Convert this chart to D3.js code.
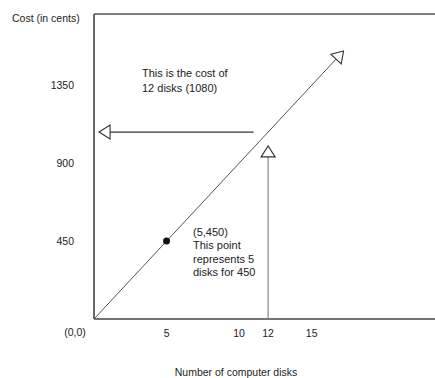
<!DOCTYPE html>
<html><head><meta charset="utf-8">
<script src="https://cdn.jsdelivr.net/npm/d3@7"></script>
<style>body{margin:0;background:#fff}svg{display:block}text{font-family:"Liberation Sans",Arial,sans-serif;fill:#222}</style>
</head><body>
<script>
// ---- data ----
const xTicks = [5, 10, 12, 15];
const yTicks = [450, 900, 1350];
const costPerDisk = 90;
const lineDisks = [0, 17.2];
const point = [5, 450];
const hArrow = [[11, 1080], [0.35, 1080]];
const vArrow = [[12, 0], [12, 1000]];
const noteTop = ["This is the cost of", "12 disks (1080)"];
const notePoint = ["(5,450)", "This point", "represents 5", "disks for 450"];
const yTitle = "Cost (in cents)";
const xTitle = "Number of computer disks";
const originLabel = "(0,0)";

const W = 435, H = 378;
const svg = d3.select("body").append("svg").attr("width", W).attr("height", H);
const x = d3.scaleLinear().domain([0, 23.5]).range([94, 435]);
const y = d3.scaleLinear().domain([0, 1762]).range([319, 14]);

const defs = svg.append("defs");
defs.append("marker").attr("id", "arr").attr("viewBox", "0 -8 13 16")
  .attr("refX", 12).attr("refY", 0).attr("markerWidth", 13).attr("markerHeight", 16)
  .attr("markerUnits", "userSpaceOnUse").attr("orient", "auto")
  .append("path").attr("d", "M1,-7 L12,0 L1,7 Z")
  .attr("fill", "#fff").attr("stroke", "#333").attr("stroke-width", 1.1);

// frame: left axis, top line, bottom axis
svg.append("line").attr("x1", x(0)).attr("x2", x(0)).attr("y1", y.range()[1]).attr("y2", y(0))
  .attr("stroke", "#444").attr("stroke-width", 1.6);
svg.append("line").attr("x1", x(0)).attr("x2", W).attr("y1", y.range()[1]).attr("y2", y.range()[1])
  .attr("stroke", "#555").attr("stroke-width", 1.6);
svg.append("line").attr("x1", x(0)).attr("x2", W).attr("y1", y(0)).attr("y2", y(0))
  .attr("stroke", "#444").attr("stroke-width", 1.6);

// cost line
const line = d3.line().x(d => x(d[0])).y(d => y(d[1]));
svg.append("path").datum(lineDisks.map(d => [d, d * costPerDisk])).attr("d", line)
  .attr("fill", "none").attr("stroke", "#555").attr("stroke-width", 1).attr("marker-end", "url(#arr)");

// horizontal arrow
svg.append("path").datum(hArrow).attr("d", line).attr("fill", "none")
  .attr("stroke", "#333").attr("stroke-width", 1.2).attr("marker-end", "url(#arr)");
// vertical arrow
svg.append("path").datum(vArrow).attr("d", line).attr("fill", "none")
  .attr("stroke", "#888").attr("stroke-width", 1.2).attr("marker-end", "url(#arr)");

// point
svg.append("circle").attr("cx", x(point[0])).attr("cy", y(point[1])).attr("r", 3.5).attr("fill", "#111");

// tick labels
svg.selectAll(".xt").data(xTicks).join("text").attr("x", d => x(d)).attr("y", 337)
  .attr("text-anchor", "middle").attr("font-size", 10.5).text(d => d);
svg.selectAll(".yt").data(yTicks).join("text").attr("x", 74).attr("y", d => y(d) + 4)
  .attr("text-anchor", "end").attr("font-size", 10.5).text(d => d);
svg.append("text").attr("x", 75).attr("y", 336).attr("text-anchor", "middle").attr("font-size", 10.5).text(originLabel);

// titles
svg.append("text").attr("x", 12).attr("y", 22).attr("font-size", 10.5).text(yTitle);
svg.append("text").attr("x", 236).attr("y", 376).attr("text-anchor", "middle").attr("font-size", 10.5).text(xTitle);

// notes
svg.selectAll(".n1").data(noteTop).join("text").attr("x", 142).attr("y", (d, i) => 77 + i * 15)
  .attr("font-size", 11).text(d => d);
svg.selectAll(".n2").data(notePoint).join("text").attr("x", 193).attr("y", (d, i) => 236 + i * 13.3)
  .attr("font-size", 11).text(d => d);
</script>
</body></html>
